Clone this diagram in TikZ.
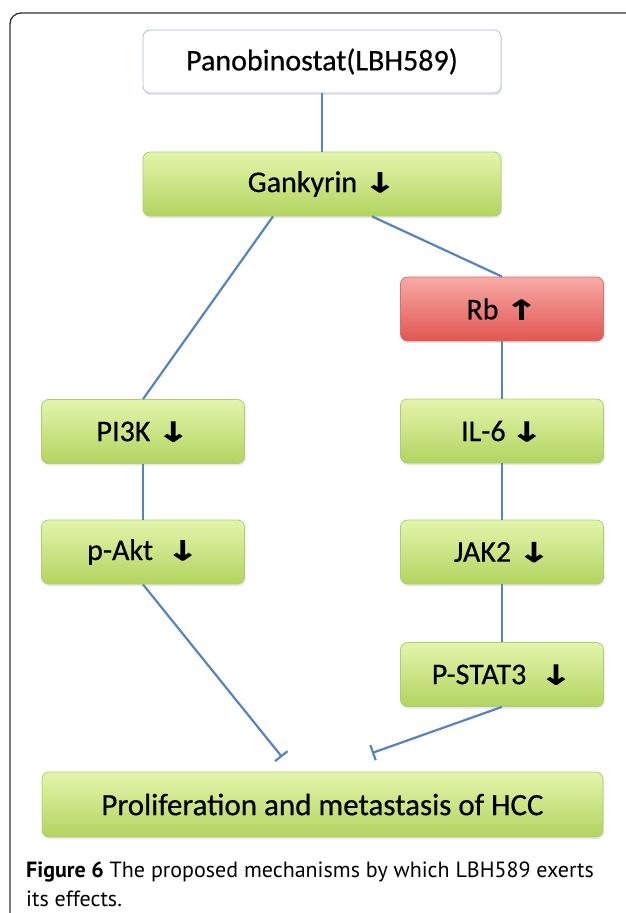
\documentclass[tikz,border=0pt]{standalone}
\usepackage{fontspec}
\setmainfont{Carlito}[FakeBold=0.5]
\newfontfamily\capfont{PT Sans}
\newfontfamily\arrfont[FakeBold=4]{DejaVu Sans}
\usetikzlibrary{arrows.meta,shadows}

\definecolor{greentop}{RGB}{228,245,172}
\definecolor{greenbot}{RGB}{178,212,96}
\definecolor{greenedge}{RGB}{172,206,112}
\definecolor{redtop}{RGB}{248,170,166}
\definecolor{redbot}{RGB}{224,86,80}
\definecolor{rededge}{RGB}{214,112,106}
\definecolor{bluedge}{RGB}{165,192,220}
\definecolor{linkblue}{RGB}{86,132,190}
\definecolor{framecol}{RGB}{50,50,50}

\newcommand{\arrdown}{\scalebox{1.75}[1.2]{\arrfont\fontsize{22}{22}\selectfont ↓}}
\newcommand{\arrup}{\scalebox{1.75}[1.2]{\arrfont\fontsize{22}{22}\selectfont ↑}}

\tikzset{
  pathbox/.style={rounded corners=7pt, line width=0.8pt, minimum width=203pt,
    minimum height=64pt, font=\fontsize{30}{32}\selectfont,
    drop shadow={opacity=0.18, shadow xshift=1pt, shadow yshift=-2pt}},
  greenbox/.style={pathbox, draw=greenedge, top color=greentop, bottom color=greenbot},
  redbox/.style={pathbox, draw=rededge, top color=redtop, bottom color=redbot},
  drugbox/.style={pathbox, draw=bluedge, fill=white, drop shadow={opacity=0}},
  link/.style={draw=linkblue, line width=2.2pt},
  inhibit/.style={link, -{Bar[width=16pt]}}
}

\begin{document}
\begin{tikzpicture}[x=1pt,y=-1pt]
    \useasboundingbox (0,0) rectangle (625,913);
    \draw[framecol, line width=1.3pt, rounded corners=11pt]
	(10,960) -- (10,13) -- (660,13);

    % drug and first target
    \node[drugbox, minimum width=358pt, minimum height=63pt] (pano) at (322,61.5)
	{Panobinostat(LBH589)};
    \node[greenbox, minimum width=358pt] (gank) at (322,184) {Gankyrin \arrdown};

    % left branch
    \node[greenbox] (pik) at (143,431.5) {PI3K \arrdown};
    \node[greenbox] (akt) at (143,552) {p-Akt\ \ \arrdown};

    % right branch
    \node[redbox] (rb) at (502,309) {Rb \arrup};
    \node[greenbox] (ilsix) at (502,431) {IL-6\,\arrdown};
    \node[greenbox] (jak) at (502,552) {JAK2 \arrdown};
    \node[greenbox] (stat) at (502,674.5) {P-STAT3\ \ \arrdown};

    \node[greenbox, minimum width=561pt, minimum height=65pt,
	font=\fontsize{31}{34}\selectfont] (hcc) at (322.5,804.5)
	{Proliferation and metastasis of HCC};

    \coordinate (aktend) at (282,757);
    \coordinate (statend) at (372,753);

    \draw[link] (pano) -- (gank);
    \draw[link] ([xshift=-49pt]gank.south) -- (pik.north);
    \draw[link] ([xshift=50pt]gank.south) -- (rb.north);
    \draw[link] (pik) -- (akt);
    \draw[link] (rb) -- (ilsix);
    \draw[link] (ilsix) -- (jak);
    \draw[link] (jak) -- (stat);
    \draw[inhibit] (akt.south) -- (aktend);
    \draw[inhibit] (stat.south) -- (statend);

    % caption
    \node[anchor=base west, inner sep=0pt, font=\capfont\fontsize{22}{29}\selectfont]
	(capa) at (26,877)
	{\textbf{Figure 6} The proposed mechanisms by which LBH589 exerts};
    \node[anchor=base west, inner sep=0pt, font=\capfont\fontsize{22}{29}\selectfont]
	(capb) at (26,906) {its effects.};
\end{tikzpicture}
\end{document}
